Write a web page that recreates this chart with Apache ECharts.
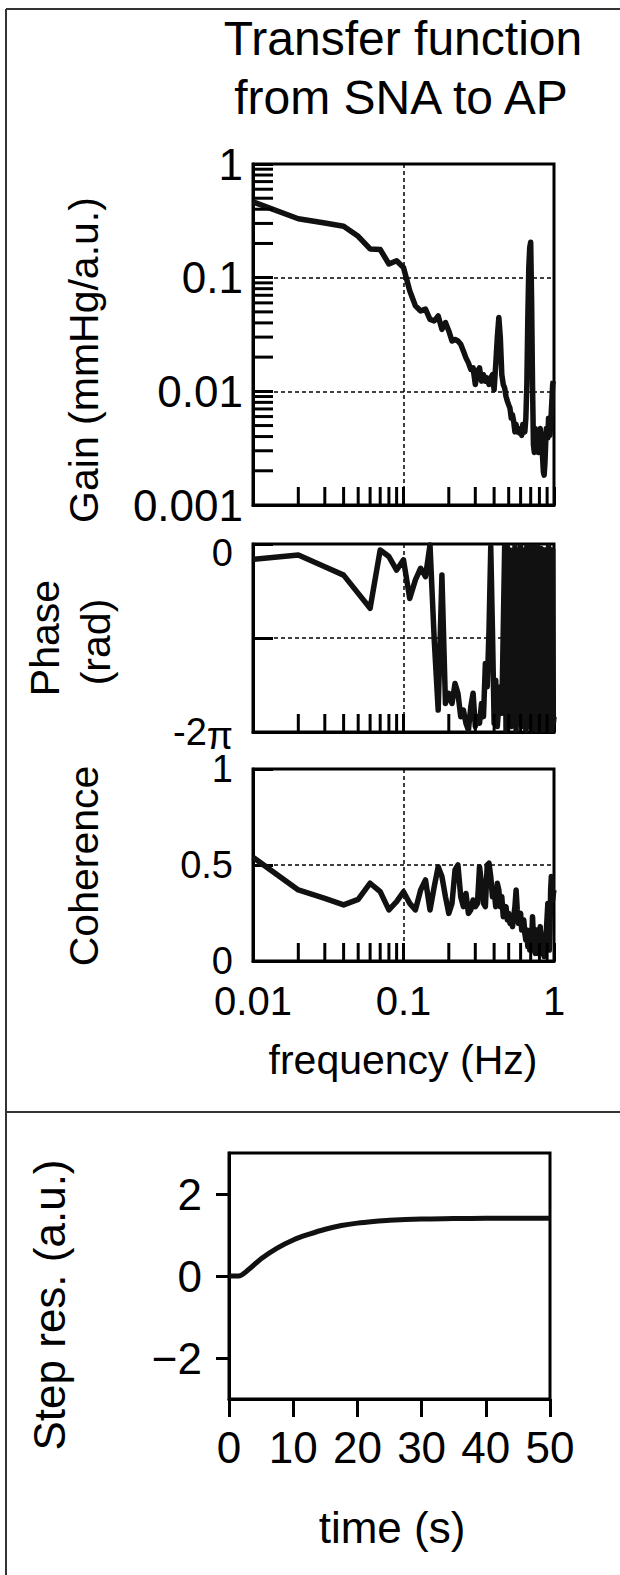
<!DOCTYPE html>
<html>
<head>
<meta charset="utf-8">
<script src="https://cdn.jsdelivr.net/npm/echarts@6/dist/echarts.min.js"></script>
<style>
html,body{margin:0;padding:0;background:#fff;}
#chart{width:620px;height:1575px;}
</style>
</head>
<body>
<div id="chart"></div>
<script>
// ---------- DATA ----------
const titleLines = ['Transfer function', 'from SNA to AP'];
const freqHz = [0.01,0.02,0.03,0.04,0.05,0.06,0.07,0.08,0.09,0.10,
  0.11,0.12,0.13,0.14,0.15,0.16,0.17,0.18,0.19,0.20,
  0.21,0.22,0.23,0.24,0.25,0.26,0.27,0.28,0.29,0.30,
  0.31,0.32,0.33,0.34,0.35,0.36,0.37,0.38,0.39,0.40,
  0.41,0.42,0.43,0.44,0.45,0.46,0.47,0.48,0.49,0.50,
  0.51,0.52,0.53,0.54,0.55,0.56,0.57,0.58,0.59,0.60,
  0.61,0.62,0.63,0.64,0.65,0.66,0.67,0.68,0.69,0.70,
  0.71,0.72,0.73,0.74,0.75,0.76,0.77,0.78,0.79,0.80,
  0.81,0.82,0.83,0.84,0.85,0.86,0.87,0.88,0.89,0.90,
  0.91,0.92,0.93,0.94,0.95,0.96,0.97,0.98,0.99,1.00];
const gainValues = [0.464,0.33,0.303,0.283,0.231,0.179,0.177,0.132,0.141,0.123,
  0.0767,0.0565,0.051,0.0528,0.043,0.0417,0.0461,0.0351,0.0403,0.034,
  0.0277,0.0286,0.0277,0.0259,0.0226,0.0197,0.0178,0.0156,0.0161,0.0115,
  0.015,0.0161,0.0123,0.014,0.0123,0.0131,0.0115,0.0131,0.014,0.0103,
  0.0172,0.0296,0.0446,0.0296,0.014,0.0115,0.0107,0.009,0.0082,0.0076,
  0.0071,0.0058,0.0062,0.0054,0.0044,0.0051,0.0044,0.0047,0.0043,0.0046,
  0.0041,0.0051,0.0047,0.0044,0.0058,0.0115,0.0446,0.123,0.185,0.205,
  0.0625,0.0115,0.0034,0.0029,0.0047,0.0039,0.0036,0.0044,0.0029,0.0039,
  0.0047,0.0041,0.0034,0.0026,0.00196,0.00183,0.0023,0.0034,0.0047,0.0041,
  0.0039,0.0058,0.0047,0.0041,0.0051,0.0067,0.0087,0.0115,0.0123,0.0123];
const phaseValues = [-0.51,-0.37,-0.76,-1.04,-1.65,-2.15,-0.20,-0.42,-0.87,-0.53,
  -1.82,-1.2,-0.81,-1.09,-0.03,-3.2,-5.55,-1.04,-5.33,-4.99,
  -5.33,-4.66,-4.99,-5.77,-5.55,-5.99,-6.22,-5.44,-4.99,-6.1,
  -5.77,-5.99,-5.33,-5.77,-3.99,-4.77,-2.87,-0.09,-2.87,-5.99,
  -4.55,-6.1,-5.33,-4.77,-5.66,-2.87,-0.09,-6.22,-0.09,-5.99,
  -0.2,-6.1,-0.42,-5.33,-0.09,-6.22,-0.2,-5.99,-2.87,-0.09,
  -6.1,-0.2,-5.88,-0.2,-6.22,-0.09,-5.99,-0.15,-6.1,-0.09,
  -6.22,-0.2,-5.99,-0.09,-6.1,-0.31,-6.22,-0.09,-5.88,-0.2,
  -6.22,-0.15,-6.1,-0.2,-6.22,-0.2,-5.66,-0.2,-1.65,-0.2,
  -6.1,-0.09,-6.22,-0.2,-5.99,-0.2,-6.22,-0.2,-5.99,-5.77];
const coherenceValues = [0.54,0.37,0.326,0.292,0.321,0.405,0.361,0.266,0.309,0.361,
  0.30,0.266,0.37,0.422,0.266,0.387,0.491,0.44,0.335,0.248,
  0.30,0.474,0.50,0.335,0.283,0.352,0.248,0.266,0.318,0.283,
  0.30,0.491,0.405,0.30,0.283,0.50,0.509,0.44,0.335,0.37,
  0.283,0.405,0.37,0.283,0.335,0.231,0.266,0.283,0.214,0.248,
  0.196,0.231,0.179,0.231,0.283,0.37,0.266,0.196,0.231,0.248,
  0.161,0.196,0.214,0.144,0.109,0.161,0.075,0.127,0.057,0.161,
  0.092,0.231,0.127,0.057,0.04,0.127,0.161,0.075,0.04,0.127,
  0.179,0.092,0.04,0.127,0.057,0.023,0.092,0.127,0.161,0.231,
  0.30,0.231,0.057,0.161,0.37,0.44,0.405,0.318,0.352,0.37];
const stepTime = [0,1.5,3,5,7.5,10,12.5,15,17.5,20,22.5,25,30,35,40,45,50];
const stepValues = [0,0,0.15,0.42,0.68,0.88,1.02,1.14,1.23,1.29,1.33,1.36,1.39,1.40,1.41,1.41,1.41];

const freqTicks = [0.01, 0.1, 1];
const freqTickLabels = ['0.01', '0.1', '1'];
const freqMinorTicks = [0.02,0.03,0.04,0.05,0.06,0.07,0.08,0.09,0.2,0.3,0.4,0.5,0.6,0.7,0.8,0.9];
const gainTicks = [0.001, 0.01, 0.1, 1];
const gainTickLabels = ['0.001', '0.01', '0.1', '1'];
const gainMinorTicks = [0.002,0.003,0.004,0.005,0.006,0.007,0.008,0.009,
  0.02,0.03,0.04,0.05,0.06,0.07,0.08,0.09,0.2,0.3,0.4,0.5,0.6,0.7,0.8,0.9];
const phaseTickLabels = ['{n|-2}{p|π}', '', '{z|0}'];
const coherenceTickLabels = ['0', '0.5', '1'];
const stepYTicks = [-2, 0, 2];
const stepYTickLabels = ['\u22122', '0', '2'];
const stepXTickLabels = ['0', '10', '20', '30', '40', '50'];

// ---------- CHART ----------
const FONT = 'Liberation Sans, Arial, sans-serif';
const chart = echarts.init(document.getElementById('chart'), null, {renderer: 'svg'});

function labelFromList(ticks, labels) {
  return function (v) {
    for (let i = 0; i < ticks.length; i++) {
      if (Math.abs(Math.log10(v) - Math.log10(ticks[i])) < 1e-6) return labels[i];
    }
    return '';
  };
}
const dashGrid = {show: true, lineStyle: {color: '#000', width: 1.5, type: [4, 3]}};
const boxLine = {show: true, onZero: false, lineStyle: {color: '#000', width: 3}};

function freqX(gridIndex, showLabels) {
  return {
    type: 'log', logBase: 10, min: 0.01, max: 1, gridIndex: gridIndex,
    axisLine: boxLine,
    axisTick: {show: true, inside: true, length: 18, lineStyle: {color: '#000', width: 3}},
    axisLabel: {show: showLabels, margin: 20, color: '#000', fontSize: 40, fontFamily: FONT,
      formatter: labelFromList(freqTicks, freqTickLabels)},
    splitLine: dashGrid
  };
}
function minorX(gridIndex, yRef) {
  return {
    type: 'custom', xAxisIndex: gridIndex, yAxisIndex: gridIndex, silent: true, clip: false, z: 5,
    data: freqMinorTicks.map(f => [f, yRef]),
    renderItem: function (params, api) {
      const cs = params.coordSys;
      const p = api.coord([api.value(0), api.value(1)]);
      const yb = cs.y + cs.height;
      return {type: 'line', shape: {x1: p[0], y1: yb, x2: p[0], y2: yb - 18},
        style: {stroke: '#000', lineWidth: 3}};
    }
  };
}
function dataLine(gridIndex, ys) {
  return {
    type: 'line', xAxisIndex: gridIndex, yAxisIndex: gridIndex, showSymbol: false, z: 4,
    data: freqHz.map((f, i) => [f, ys[i]]),
    lineStyle: {color: '#111', width: 5.5, join: 'round'}
  };
}

const option = {
  animation: false,
  backgroundColor: '#fff',
  grid: [
    {left: 253, top: 164, width: 301, height: 341, show: true, borderColor: '#000', borderWidth: 3},
    {left: 253, top: 544, width: 301, height: 188, show: true, borderColor: '#000', borderWidth: 3},
    {left: 253, top: 769, width: 301, height: 192, show: true, borderColor: '#000', borderWidth: 3},
    {left: 229, top: 1153, width: 321, height: 246, show: true, borderColor: '#000', borderWidth: 3}
  ],
  xAxis: [
    freqX(0, false), freqX(1, false), freqX(2, true),
    {type: 'value', gridIndex: 3, min: 0, max: 50, interval: 10,
      axisLine: boxLine,
      axisTick: {show: true, inside: false, length: 18, lineStyle: {color: '#000', width: 3}},
      axisLabel: {margin: 26, color: '#000', fontSize: 44, fontFamily: FONT,
        formatter: (v, i) => stepXTickLabels[i]},
      splitLine: {show: false}}
  ],
  yAxis: [
    {type: 'log', logBase: 10, min: 0.001, max: 1, gridIndex: 0,
      axisLine: boxLine,
      axisTick: {show: true, inside: true, length: 20, lineStyle: {color: '#000', width: 3}},
      axisLabel: {margin: 10, color: '#000', fontSize: 44, fontFamily: FONT,
        formatter: labelFromList(gainTicks, gainTickLabels)},
      splitLine: dashGrid},
    {type: 'value', min: -2 * Math.PI, max: 0, interval: Math.PI, gridIndex: 1,
      axisLine: boxLine,
      axisTick: {show: true, inside: true, length: 20, lineStyle: {color: '#000', width: 3}},
      axisLabel: {margin: 20, color: '#000', fontSize: 38, fontFamily: FONT,
        formatter: (v, i) => phaseTickLabels[i],
        rich: {n: {fontSize: 38, fontFamily: FONT, color: '#000', lineHeight: 38, padding: [0, 0, 18, 0], verticalAlign: 'top'},
               p: {fontSize: 38, fontFamily: FONT, color: '#000', lineHeight: 38, padding: [4, 0, 0, 0], verticalAlign: 'top'},
               z: {fontSize: 38, fontFamily: FONT, color: '#000', lineHeight: 56, verticalAlign: 'bottom'}}},
      splitLine: dashGrid},
    {type: 'value', min: 0, max: 1, interval: 0.5, gridIndex: 2,
      axisLine: boxLine,
      axisTick: {show: true, inside: true, length: 20, lineStyle: {color: '#000', width: 3}},
      axisLabel: {margin: 20, color: '#000', fontSize: 38, lineHeight: 28, fontFamily: FONT,
        formatter: (v, i) => coherenceTickLabels[i]},
      splitLine: dashGrid},
    {type: 'value', min: -3, max: 3, gridIndex: 3,
      axisLine: boxLine,
      axisTick: {show: true, inside: false, length: 13, customValues: stepYTicks,
        lineStyle: {color: '#000', width: 3}},
      axisLabel: {margin: 27, color: '#000', fontSize: 44, fontFamily: FONT, customValues: stepYTicks,
        formatter: v => stepYTickLabels[stepYTicks.indexOf(Math.round(v))]},
      splitLine: {show: false}}
  ],
  series: [
    dataLine(0, gainValues),
    dataLine(1, phaseValues),
    dataLine(2, coherenceValues),
    minorX(0, 0.01), minorX(1, -3), minorX(2, 0.5),
    {
      type: 'custom', xAxisIndex: 0, yAxisIndex: 0, silent: true, clip: false, z: 5,
      data: gainMinorTicks.map(g => [0.05, g]),
      renderItem: function (params, api) {
        const cs = params.coordSys;
        const p = api.coord([api.value(0), api.value(1)]);
        return {type: 'line', shape: {x1: cs.x, y1: p[1], x2: cs.x + 20, y2: p[1]},
          style: {stroke: '#000', lineWidth: 3}};
      }
    },
    {
      type: 'line', xAxisIndex: 3, yAxisIndex: 3, showSymbol: false, smooth: 0.3, z: 4,
      data: stepTime.map((t, i) => [t, stepValues[i]]),
      lineStyle: {color: '#111', width: 5}
    }
  ],
  graphic: [
    {type: 'line', shape: {x1: 6, y1: 9, x2: 6, y2: 1575}, style: {stroke: '#333', lineWidth: 2}},
    {type: 'line', shape: {x1: 6, y1: 9, x2: 620, y2: 9}, style: {stroke: '#333', lineWidth: 2}},
    {type: 'line', shape: {x1: 6, y1: 1112, x2: 620, y2: 1112}, style: {stroke: '#333', lineWidth: 2}},
    {type: 'text', x: 403, y: 38, style: {text: titleLines[0], font: '48px ' + FONT, fill: '#000', align: 'center', verticalAlign: 'middle'}},
    {type: 'text', x: 401, y: 97, style: {text: titleLines[1], font: '48px ' + FONT, fill: '#000', align: 'center', verticalAlign: 'middle'}},
    {type: 'text', x: 84, y: 360, rotation: Math.PI / 2, style: {text: 'Gain (mmHg/a.u.)', font: '41px ' + FONT, fill: '#000', align: 'center', verticalAlign: 'middle'}},
    {type: 'text', x: 45, y: 638, rotation: Math.PI / 2, style: {text: 'Phase', font: '41px ' + FONT, fill: '#000', align: 'center', verticalAlign: 'middle'}},
    {type: 'text', x: 96, y: 642, rotation: Math.PI / 2, style: {text: '(rad)', font: '41px ' + FONT, fill: '#000', align: 'center', verticalAlign: 'middle'}},
    {type: 'text', x: 84, y: 866, rotation: Math.PI / 2, style: {text: 'Coherence', font: '41px ' + FONT, fill: '#000', align: 'center', verticalAlign: 'middle'}},
    {type: 'text', x: 403, y: 1060, style: {text: 'frequency (Hz)', font: '41px ' + FONT, fill: '#000', align: 'center', verticalAlign: 'middle'}},
    {type: 'text', x: 49, y: 1305, rotation: Math.PI / 2, style: {text: 'Step res. (a.u.)', font: '44px ' + FONT, fill: '#000', align: 'center', verticalAlign: 'middle'}},
    {type: 'text', x: 392, y: 1527, style: {text: 'time (s)', font: '44px ' + FONT, fill: '#000', align: 'center', verticalAlign: 'middle'}}
  ]
};
chart.setOption(option);
</script>
</body>
</html>
